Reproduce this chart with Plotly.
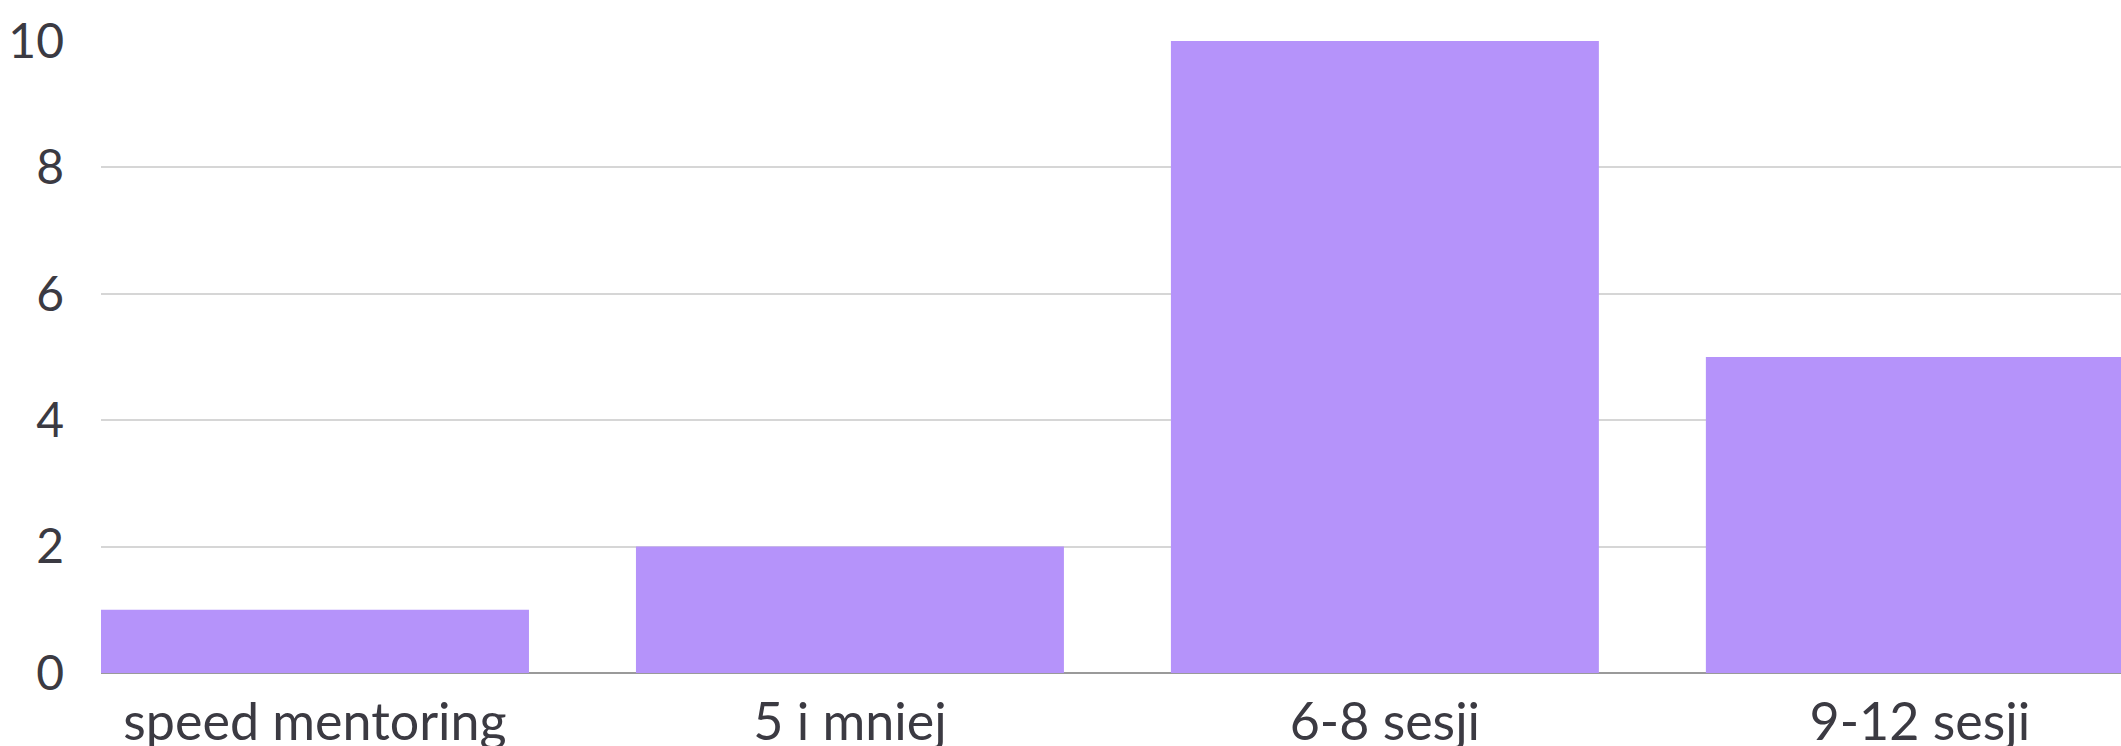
import plotly.graph_objects as go

categories = ["speed mentoring", "5 i mniej", "6-8 sesji", "9-12 sesji"]
counts = [1, 2, 10, 5]
y_ticks = [0, 2, 4, 6, 8, 10]

BAR_COLOR = "#b593fa"
TEXT_COLOR = "#3b3a42"
FONT = "Lato"

fig = go.Figure(
    go.Bar(
        x=list(range(len(categories))),
        y=counts,
        marker=dict(color=BAR_COLOR, line=dict(width=0)),
        width=0.8,
        hoverinfo="skip",
    )
)

fig.update_layout(
    width=2121,
    height=746,
    margin=dict(l=101, r=0, t=41, b=73, autoexpand=False),
    paper_bgcolor="white",
    plot_bgcolor="white",
    showlegend=False,
    font=dict(family=FONT, color=TEXT_COLOR, size=48),
)

fig.update_xaxes(
    range=[-0.4, 3.376],
    tickmode="array",
    tickvals=list(range(len(categories))),
    ticktext=categories,
    showgrid=False,
    zeroline=False,
    showline=False,
    ticks="",
    automargin=False,
    ticklabelstandoff=14,
    tickfont=dict(size=52, color=TEXT_COLOR, family=FONT),
)

fig.update_yaxes(
    range=[0, 10],
    tickmode="array",
    tickvals=y_ticks,
    ticktext=[str(v) for v in y_ticks],
    showgrid=True,
    gridcolor="#d6d6d6",
    gridwidth=1.5,
    zeroline=True,
    zerolinecolor="#9a9a9a",
    zerolinewidth=2,
    showline=False,
    ticks="",
    automargin=False,
    ticklabelstandoff=36,
    tickfont=dict(size=48, color=TEXT_COLOR, family=FONT),
)

fig.write_html("out.html")
